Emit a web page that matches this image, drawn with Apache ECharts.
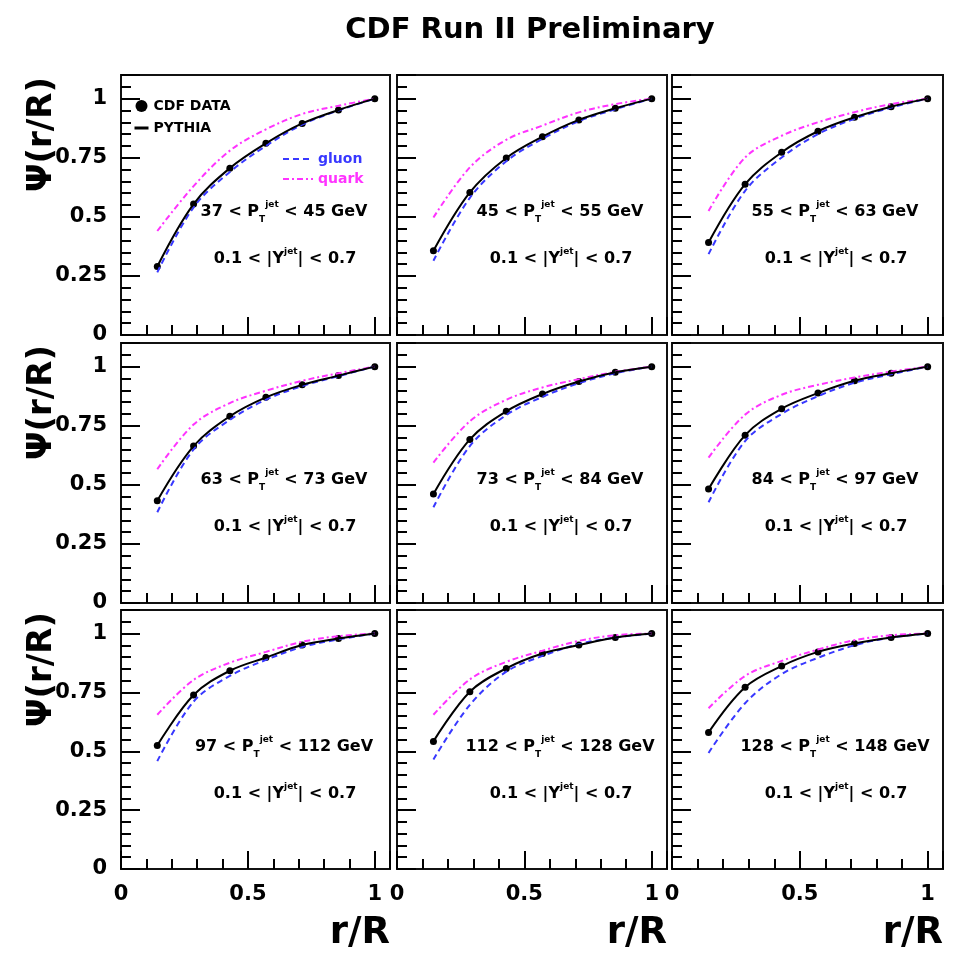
<!DOCTYPE html>
<html><head><meta charset="utf-8">
<script src="https://cdn.jsdelivr.net/npm/echarts@6/dist/echarts.min.js"></script>
<style>html,body{margin:0;padding:0;background:#fff}#c{width:954px;height:955px}</style>
</head><body><div id="c"></div>
<script>
// ---- data ----
const rR = [0.143, 0.286, 0.429, 0.571, 0.714, 0.857, 1.0];
const ptLow  = [37, 45, 55, 63, 73, 84, 97, 112, 128];
const ptHigh = [45, 55, 63, 73, 84, 97, 112, 128, 148];
const xTickLabels = ['0', '0.5', '1'];
const yTickLabels = ['0', '0.25', '0.5', '0.75', '1'];

const cdf1 = [0.290, 0.554, 0.706, 0.811, 0.895, 0.952, 1.0];
const cdf2 = [0.356, 0.603, 0.749, 0.839, 0.910, 0.959, 1.0];
const cdf3 = [0.391, 0.638, 0.773, 0.862, 0.921, 0.966, 1.0];
const cdf4 = [0.433, 0.664, 0.790, 0.870, 0.923, 0.962, 1.0];
const cdf5 = [0.461, 0.692, 0.811, 0.884, 0.937, 0.976, 1.0];
const cdf6 = [0.482, 0.710, 0.822, 0.888, 0.940, 0.972, 1.0];
const cdf7 = [0.525, 0.739, 0.842, 0.898, 0.951, 0.979, 1.0];
const cdf8 = [0.542, 0.753, 0.852, 0.915, 0.951, 0.983, 1.0];
const cdf9 = [0.580, 0.772, 0.862, 0.922, 0.958, 0.983, 1.0];

const pythia1 = [0.290, 0.554, 0.706, 0.811, 0.895, 0.952, 1.0];
const pythia2 = [0.356, 0.603, 0.749, 0.839, 0.910, 0.959, 1.0];
const pythia3 = [0.391, 0.638, 0.773, 0.862, 0.921, 0.966, 1.0];
const pythia4 = [0.433, 0.664, 0.790, 0.870, 0.923, 0.962, 1.0];
const pythia5 = [0.461, 0.692, 0.811, 0.884, 0.937, 0.976, 1.0];
const pythia6 = [0.482, 0.710, 0.822, 0.888, 0.940, 0.972, 1.0];
const pythia7 = [0.525, 0.739, 0.842, 0.898, 0.951, 0.979, 1.0];
const pythia8 = [0.542, 0.753, 0.852, 0.915, 0.951, 0.983, 1.0];
const pythia9 = [0.580, 0.772, 0.862, 0.922, 0.958, 0.983, 1.0];

const gluon1 = [0.265, 0.540, 0.690, 0.800, 0.890, 0.950, 1.0];
const gluon2 = [0.314, 0.580, 0.735, 0.830, 0.905, 0.955, 1.0];
const gluon3 = [0.342, 0.610, 0.751, 0.850, 0.915, 0.962, 1.0];
const gluon4 = [0.384, 0.650, 0.775, 0.860, 0.918, 0.960, 1.0];
const gluon5 = [0.405, 0.664, 0.795, 0.872, 0.930, 0.972, 1.0];
const gluon6 = [0.426, 0.685, 0.800, 0.875, 0.932, 0.968, 1.0];
const gluon7 = [0.458, 0.711, 0.820, 0.888, 0.943, 0.975, 1.0];
const gluon8 = [0.465, 0.697, 0.838, 0.905, 0.955, 0.983, 1.0];
const gluon9 = [0.493, 0.704, 0.828, 0.897, 0.950, 0.983, 1.0];

const quark1 = [0.440, 0.630, 0.780, 0.870, 0.935, 0.970, 1.0];
const quark2 = [0.497, 0.709, 0.826, 0.886, 0.942, 0.977, 1.0];
const quark3 = [0.525, 0.751, 0.843, 0.900, 0.943, 0.977, 1.0];
const quark4 = [0.566, 0.755, 0.846, 0.898, 0.940, 0.972, 1.0];
const quark5 = [0.594, 0.769, 0.860, 0.912, 0.947, 0.978, 1.0];
const quark6 = [0.615, 0.797, 0.881, 0.923, 0.954, 0.979, 1.0];
const quark7 = [0.655, 0.803, 0.876, 0.922, 0.965, 0.989, 1.0];
const quark8 = [0.655, 0.805, 0.880, 0.927, 0.969, 0.993, 1.0];
const quark9 = [0.683, 0.820, 0.884, 0.932, 0.972, 0.993, 1.0];

const cdfAll = [cdf1, cdf2, cdf3, cdf4, cdf5, cdf6, cdf7, cdf8, cdf9];
const pythiaAll = [pythia1, pythia2, pythia3, pythia4, pythia5, pythia6, pythia7, pythia8, pythia9];
const gluonAll = [gluon1, gluon2, gluon3, gluon4, gluon5, gluon6, gluon7, gluon8, gluon9];
const quarkAll = [quark1, quark2, quark3, quark4, quark5, quark6, quark7, quark8, quark9];

// ---- layout / style ----
const FONT = "'DejaVu Sans', sans-serif";
const colLeft = [121, 397, 672];
const colWidth = [269, 270, 271];
const rowTop = [75, 343, 610];
const rowHeight = [260, 260, 259];
const BLUE = '#3838ff';
const MAGENTA = '#ff33ff';

const pairs = ys => rR.map((x, i) => [x, ys[i]]);
const isMult = (v, step) => Math.abs(v / step - Math.round(v / step)) < 1e-6;

const grid = [], xAxis = [], yAxis = [], series = [], graphic = [];

for (let p = 0; p < 9; p++) {
  const r = Math.floor(p / 3), c = p % 3;
  const L = colLeft[c], T = rowTop[r], W = colWidth[c], H = rowHeight[r];
  grid.push({left: L, top: T, width: W, height: H, show: true,
    borderColor: '#111', borderWidth: 2, backgroundColor: '#fff'});
  const showX = r === 2, showY = c === 0;
  // minor-tick axes (with labels)
  xAxis.push({type: 'value', gridIndex: p, min: 0, max: 1.06, interval: 0.1, position: 'bottom',
    axisLine: {show: false, onZero: false}, splitLine: {show: false},
    axisTick: {show: true, inside: true, length: 10, lineStyle: {color: '#000', width: 2}},
    axisLabel: {show: showX, margin: 15, color: '#000', fontFamily: FONT, fontWeight: 'bold', fontSize: 21,
      showMaxLabel: false,
      formatter: v => isMult(v, 0.5) ? xTickLabels[Math.round(v * 2)] : ''}});
  // major-tick axes
  xAxis.push({type: 'value', gridIndex: p, min: 0, max: 1.06, interval: 0.5, position: 'bottom',
    axisLine: {show: false, onZero: false}, splitLine: {show: false},
    axisTick: {show: true, inside: true, length: 18, lineStyle: {color: '#000', width: 2}},
    axisLabel: {show: false}});
  yAxis.push({type: 'value', gridIndex: p, min: 0, max: 1.1, interval: 0.05, position: 'left',
    axisLine: {show: false, onZero: false}, splitLine: {show: false},
    axisTick: {show: true, inside: true, length: 10, lineStyle: {color: '#000', width: 2}},
    axisLabel: {show: showY, margin: 14, color: '#000', fontFamily: FONT, fontWeight: 'bold', fontSize: 21,
      showMaxLabel: false,
      formatter: v => isMult(v, 0.25) ? yTickLabels[Math.round(v * 4)] : ''}});
  yAxis.push({type: 'value', gridIndex: p, min: 0, max: 1.1, interval: 0.25, position: 'left',
    axisLine: {show: false, onZero: false}, splitLine: {show: false},
    axisTick: {show: true, inside: true, length: 19, lineStyle: {color: '#000', width: 2}},
    axisLabel: {show: false}});

  const xi = 2 * p, yi = 2 * p;
  series.push({name: 'gluon', type: 'line', xAxisIndex: xi, yAxisIndex: yi, data: pairs(gluonAll[p]),
    smooth: 0.35, symbol: 'none', color: BLUE, lineStyle: {color: BLUE, width: 2, type: [6, 4]}});
  series.push({name: 'quark', type: 'line', xAxisIndex: xi, yAxisIndex: yi, data: pairs(quarkAll[p]),
    smooth: 0.35, symbol: 'none', color: MAGENTA, lineStyle: {color: MAGENTA, width: 2, type: [6, 3, 2, 3]}});
  series.push({name: 'PYTHIA', type: 'line', xAxisIndex: xi, yAxisIndex: yi, data: pairs(pythiaAll[p]),
    smooth: 0.35, symbol: 'none', color: '#000', lineStyle: {color: '#000', width: 2}});
  series.push({name: 'CDF DATA', type: 'scatter', xAxisIndex: xi, yAxisIndex: yi, data: pairs(cdfAll[p]),
    symbol: 'circle', symbolSize: 7, color: '#000', itemStyle: {color: '#000', opacity: 1}});

  // bin labels
  graphic.push({type: 'text', x: L + 163, y: T + 137, z: 10,
    style: {text: `{n|${ptLow[p]} < P}{sub|T}{sup|jet}{n| < ${ptHigh[p]} GeV}`, align: 'center', verticalAlign: 'middle',
      fill: '#000',
      rich: {
        n: {fontSize: 16, fontWeight: 'bold', fontFamily: FONT, fill: '#000', lineHeight: 24, verticalAlign: 'middle'},
        sub: {fontSize: 9, fontWeight: 'bold', fontFamily: FONT, fill: '#000', lineHeight: 12, verticalAlign: 'bottom'},
        sup: {fontSize: 9, fontWeight: 'bold', fontFamily: FONT, fill: '#000', lineHeight: 12, verticalAlign: 'top'}
      }}});
  graphic.push({type: 'text', x: L + 164, y: T + 184, z: 10,
    style: {text: `{n|0.1 < |Y}{sup|jet}{n|| < 0.7}`, align: 'center', verticalAlign: 'middle',
      fill: '#000',
      rich: {
        n: {fontSize: 16, fontWeight: 'bold', fontFamily: FONT, fill: '#000', lineHeight: 24, verticalAlign: 'middle'},
        sup: {fontSize: 9, fontWeight: 'bold', fontFamily: FONT, fill: '#000', lineHeight: 12, verticalAlign: 'top'}
      }}});
  // axis titles
  if (c === 0) {
    graphic.push({type: 'text', x: 42, y: T + 2, rotation: Math.PI / 2, z: 10,
      style: {text: 'Ψ(r/R)', align: 'right', verticalAlign: 'middle', fill: '#000',
        font: `bold 34px ${FONT}`}});
  }
  if (r === 2) {
    graphic.push({type: 'text', x: L + W, y: 933, z: 10,
      style: {text: 'r/R', align: 'right', verticalAlign: 'middle', fill: '#000',
        font: `bold 37px ${FONT}`}});
  }
}

graphic.push({type: 'text', x: 530, y: 30, z: 10,
  style: {text: 'CDF Run II Preliminary', align: 'center', verticalAlign: 'middle', fill: '#000',
    font: `bold 29px ${FONT}`}});

const legendText = {fontSize: 14, fontWeight: 'bold', fontFamily: FONT, color: '#000'};
const noSym = {opacity: 0};
const option = {
  animation: false,
  backgroundColor: '#fff',
  grid, xAxis, yAxis, series, graphic,
  legend: [
    {orient: 'vertical', left: 128, top: 94, itemWidth: 14, itemHeight: 12, itemGap: 8,
      selectedMode: false, textStyle: legendText,
      data: [{name: 'CDF DATA', icon: 'circle', itemStyle: {color: '#000', opacity: 1}},
             {name: 'PYTHIA', itemStyle: noSym, lineStyle: {width: 3}}]},
    {orient: 'vertical', left: 277, top: 147, itemWidth: 30, itemHeight: 10, itemGap: 6,
      selectedMode: false, textStyle: legendText,
      data: [{name: 'gluon', itemStyle: noSym, textStyle: {color: BLUE}},
             {name: 'quark', itemStyle: noSym, textStyle: {color: MAGENTA}}]}
  ]
};

const chart = echarts.init(document.getElementById('c'), null, {renderer: 'canvas'});
chart.setOption(option);
</script>
</body></html>
